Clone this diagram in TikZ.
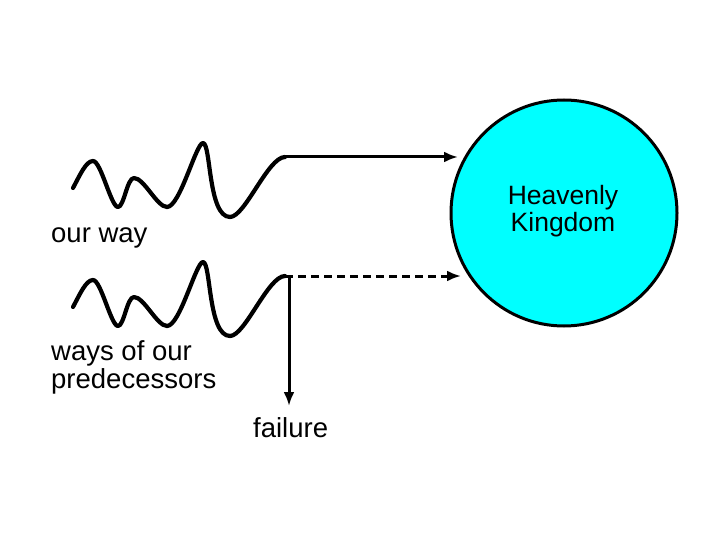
\documentclass[tikz,border=0pt]{standalone}
\usepackage{fontspec}
\setmainfont{Liberation Sans}
\usetikzlibrary{arrows.meta}
\begin{document}
\begin{tikzpicture}[x=1pt,y=-1pt,
  wave/.style={line width=4.2pt,line cap=round,line join=round},
  conn/.style={line width=3pt,-{Latex[length=14pt,width=11pt]}},
  lbl/.style={anchor=base west,inner sep=0pt,font=\fontsize{27.5}{28}\selectfont,align=left}]
\useasboundingbox[fill=white] (0,0) rectangle (720,540);
% Heavenly Kingdom
\node[circle,draw,line width=3pt,fill={rgb,255:red,0;green,255;blue,255},minimum size=226pt,inner sep=0pt] (hk) at (564,213) {};
\node[font=\fontsize{26.5}{28}\selectfont,align=center,anchor=base] (hkt) at (563,232) {Heavenly\\Kingdom};
% connector end points
\coordinate (w1end) at (285,157);
\coordinate (w2end) at (285,276);
\coordinate (t1) at (458,157);
\coordinate (t2) at (461,276);
\coordinate (v1) at (289,276);
\coordinate (f1) at (289,406);
% top wave
\draw[wave] (73,188) .. controls (80,175) and (86,161) .. (93,161)
  .. controls (101,161) and (111,207) .. (118,207)
  .. controls (124,207) and (127,178) .. (134,178)
  .. controls (144,178) and (157,207) .. (167,207)
  .. controls (180,207) and (196,143) .. (203,143)
  .. controls (211,143) and (208,217) .. (230,217)
  .. controls (245,217) and (268,157) .. (w1end);
% bottom wave
\begin{scope}[yshift=-119pt]
\draw[wave] (73,188) .. controls (80,175) and (86,161) .. (93,161)
  .. controls (101,161) and (111,207) .. (118,207)
  .. controls (124,207) and (127,178) .. (134,178)
  .. controls (144,178) and (157,207) .. (167,207)
  .. controls (180,207) and (196,143) .. (203,143)
  .. controls (211,143) and (208,217) .. (230,217)
  .. controls (245,217) and (268,157) .. (285,157);
\end{scope}
% connectors
\draw[conn] (w1end) -- (t1);
\draw[conn,dash pattern=on 8pt off 5pt] (w2end) -- (t2);
\draw[conn] (v1) -- (f1);
% labels
\node[lbl] (ow) at (51,242) {our way};
\node[lbl] (wp) at (51,388) {ways of our\\predecessors};
\node[lbl] (fl) at (253,437) {failure};
\end{tikzpicture}
\end{document}
